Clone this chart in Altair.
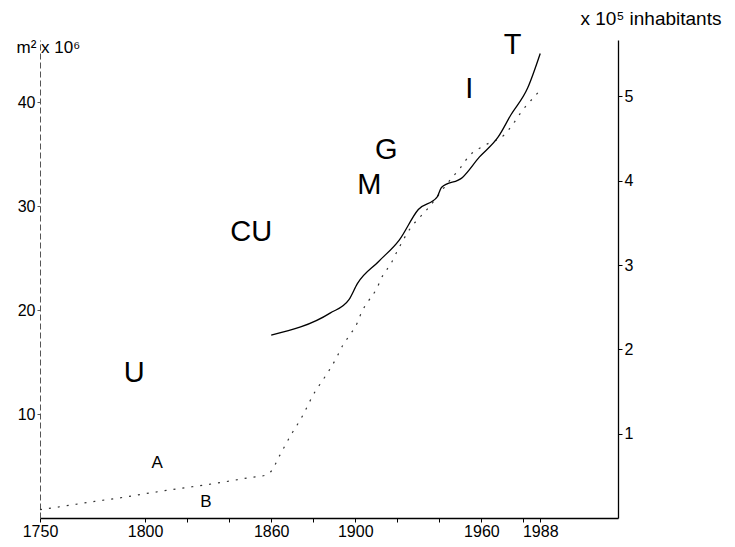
import altair as alt
import pandas as pd

# Dotted series (left axis, m² x 10^6)
area_years = [1750, 1760, 1776, 1790, 1802, 1815, 1829, 1840, 1850, 1857, 1860,
              1864, 1870, 1874, 1881, 1884, 1891, 1894, 1897, 1901, 1903, 1906,
              1910, 1913, 1917, 1920, 1927, 1931, 1935, 1945, 1950, 1954, 1962,
              1971, 1975, 1978, 1981, 1985, 1988]
area_vals = [0.8, 1.1, 1.6, 2.0, 2.4, 2.8, 3.2, 3.55, 3.9, 4.1, 4.5,
             6.0, 8.2, 9.5, 12.2, 13.1, 15.4, 16.6, 17.5, 18.8, 19.8, 20.8,
             22.0, 23.3, 24.5, 25.7, 28.1, 29.0, 29.9, 32.5, 33.7, 34.8, 35.9,
             36.9, 37.9, 38.8, 39.6, 40.5, 41.2]

# Solid series (right axis, x 10^5 inhabitants)
pop_years = [1860, 1888, 1897, 1901, 1911, 1921, 1930, 1939, 1941, 1951,
             1959, 1968, 1974, 1982, 1988]
pop_vals = [2.17, 2.43, 2.59, 2.78, 3.04, 3.30, 3.66, 3.81, 3.92, 4.04,
            4.28, 4.52, 4.78, 5.10, 5.51]

# Phase letters (placed in left-axis units)
big_text = ["U", "CU", "M", "G", "I", "T"]
big_years = [1794.8, 1850.5, 1906.7, 1914.8, 1954.3, 1974.8]
big_vals = [14.0, 27.5, 32.0, 35.4, 41.3, 45.5]

small_text = ["A", "B"]
small_years = [1805.7, 1829.0]
small_vals = [5.3, 1.5]

x_tick_values = [1750, 1800, 1820, 1840, 1860, 1880, 1900, 1920, 1940, 1960, 1980, 1988]
x_labelled = [1750, 1800, 1860, 1900, 1960, 1988]
left_ticks = [10, 20, 30, 40]
right_ticks = [1, 2, 3, 4, 5]

area_df = pd.DataFrame({"year": area_years, "area": area_vals})
pop_df = pd.DataFrame({"year": pop_years, "pop": pop_vals})
big_df = pd.DataFrame({"year": big_years, "v": big_vals, "t": big_text})
small_df = pd.DataFrame({"year": small_years, "v": small_vals, "t": small_text})

FONT = "Liberation Sans"
xscale = alt.Scale(domain=[1750, 2025], nice=False, zero=False)
left_scale = alt.Scale(domain=[0, 46], nice=False)
right_scale = alt.Scale(domain=[0, 5.67], nice=False)

label_expr = "indexof([" + ",".join(str(v) for v in x_labelled) + "], datum.value) >= 0 ? '' + datum.value : ''"

x_axis = alt.Axis(values=x_tick_values, labelExpr=label_expr, grid=False,
                  domainColor="black", domainWidth=1.5, tickColor="black",
                  tickSize=4, labelFont=FONT, labelFontSize=16, labelColor="black",
                  labelPadding=1, labelOverlap=False, labelFlush=False, title=None)

dotted = alt.Chart(area_df).mark_line(
    color="#333333", strokeWidth=1.2, strokeDash=[2, 7], interpolate="monotone"
).encode(
    x=alt.X("year:Q", scale=xscale, axis=x_axis),
    y=alt.Y("area:Q", scale=left_scale,
            axis=alt.Axis(orient="left", values=left_ticks, grid=False,
                          domainColor="#555555", domainDash=[6, 3], domainWidth=1,
                          tickColor="#555555", tickSize=3, labelFont=FONT,
                          labelFontSize=16, labelColor="black", labelPadding=2,
                          title="m² x 10⁶", titleAngle=0, titleX=-24, titleY=7,
                          titleAlign="left", titleBaseline="middle",
                          titleFont=FONT, titleFontSize=17,
                          titleFontWeight="normal", titleColor="black")),
)

solid = alt.Chart(pop_df).mark_line(
    color="black", strokeWidth=1.3, interpolate="monotone"
).encode(
    x=alt.X("year:Q", scale=xscale),
    y=alt.Y("pop:Q", scale=right_scale,
            axis=alt.Axis(orient="right", values=right_ticks, grid=False,
                          domainColor="black", domainWidth=1.3,
                          tickColor="black", tickSize=4, labelFont=FONT,
                          labelFontSize=16, labelColor="black", labelPadding=2,
                          title="x 10⁵ inhabitants", titleAngle=0, titleX=-38,
                          titleY=-22, titleAlign="left", titleBaseline="middle",
                          titleFont=FONT, titleFontSize=19,
                          titleFontWeight="normal", titleColor="black")),
)

big = alt.Chart(big_df).mark_text(
    font=FONT, fontSize=29, color="black", align="center", baseline="middle"
).encode(
    x=alt.X("year:Q", scale=xscale),
    y=alt.Y("v:Q", scale=left_scale, axis=None),
    text="t:N",
)

small = alt.Chart(small_df).mark_text(
    font=FONT, fontSize=17, color="black", align="center", baseline="middle"
).encode(
    x=alt.X("year:Q", scale=xscale),
    y=alt.Y("v:Q", scale=left_scale, axis=None),
    text="t:N",
)

chart = alt.layer(dotted, solid, big, small).resolve_scale(
    y="independent"
).properties(
    width=578, height=478,
    autosize=alt.AutoSizeParams(type="none"),
    padding={"left": 32, "top": 32, "right": 108, "bottom": 20},
    background="white",
).configure_view(stroke=None)

chart.save("out.html", embed_options={"renderer": "svg", "actions": False})
